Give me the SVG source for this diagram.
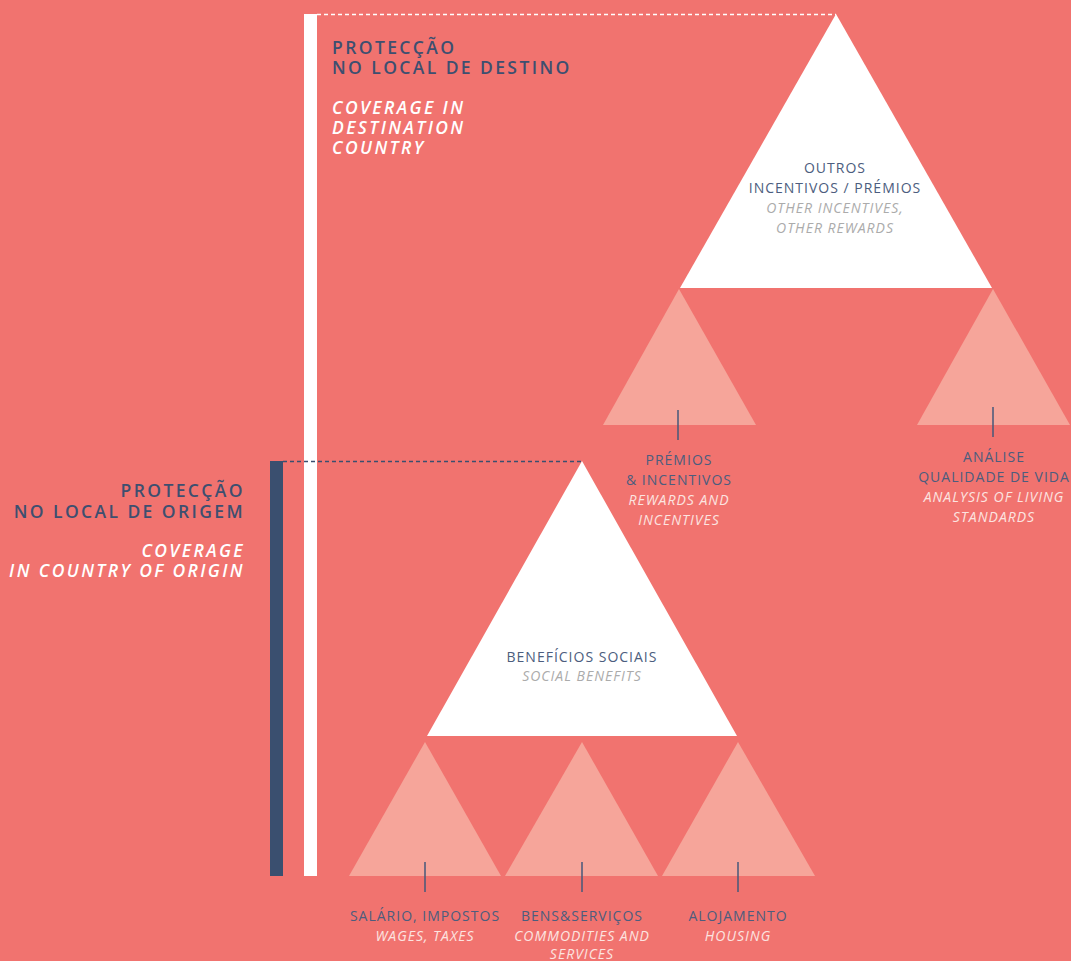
<svg xmlns="http://www.w3.org/2000/svg" width="1071" height="961" viewBox="0 0 1071 961">
  <style>
    .bg { fill: #F1736F; }
    .main { fill: #FFFFFF; }
    .sub { fill: #F6A59A; }
    .stem { stroke: #45587A; stroke-width: 1.5; }
    .lbl { font-family: "Open Sans", "Noto Sans", sans-serif; font-size: 14px; letter-spacing: 1px; text-anchor: middle; }
    .pt { fill: #4C5D7E; }
    .en { fill: #FCE4E0; font-style: italic; }
    .en-in { fill: #ABABAB; font-style: italic; }
    .ttl { font-family: "Open Sans", "Noto Sans", sans-serif; font-size: 17.5px; letter-spacing: 2.4px; }
    .ttl-pt { fill: #3D4F70; font-weight: 600; }
    .ttl-en { fill: #FFFFFF; font-weight: 600; font-style: italic; }
  </style>

  <rect class="bg" x="0" y="0" width="1071" height="961"/>

  <!-- scope bars and guide lines -->
  <g id="scope-bars">
    <rect x="304" y="14" width="13" height="862" fill="#FFFFFF"/>
    <rect x="270" y="461" width="13" height="415" fill="#3A4F6F"/>
    <line x1="317" y1="14.5" x2="836" y2="14.5" stroke="#FFFFFF" stroke-width="1.3" stroke-dasharray="4 3"/>
    <line x1="283" y1="461.5" x2="582" y2="461.5" stroke="#3A4F6F" stroke-width="1.5" stroke-dasharray="4 3"/>
  </g>

  <!-- destination coverage title -->
  <g id="title-destination">
    <text class="ttl ttl-pt" x="332" y="54">PROTECÇÃO</text>
    <text class="ttl ttl-pt" x="332" y="74">NO LOCAL DE DESTINO</text>
    <text class="ttl ttl-en" x="332" y="114">COVERAGE IN</text>
    <text class="ttl ttl-en" x="332" y="134">DESTINATION</text>
    <text class="ttl ttl-en" x="332" y="154">COUNTRY</text>
  </g>

  <!-- origin coverage title -->
  <g id="title-origin">
    <text class="ttl ttl-pt" x="245" y="497" text-anchor="end">PROTECÇÃO</text>
    <text class="ttl ttl-pt" x="245" y="518" text-anchor="end">NO LOCAL DE ORIGEM</text>
    <text class="ttl ttl-en" x="245" y="557" text-anchor="end">COVERAGE</text>
    <text class="ttl ttl-en" x="245" y="577" text-anchor="end">IN COUNTRY OF ORIGIN</text>
  </g>

  <!-- other incentives -->
  <g id="node-other-incentives">
    <polygon class="main" points="836,14 992,288 680,288"/>
    <text class="lbl pt" x="835" y="173">OUTROS</text>
    <text class="lbl pt" x="835" y="193">INCENTIVOS / PRÉMIOS</text>
    <text class="lbl en-in" x="835" y="213">OTHER INCENTIVES,</text>
    <text class="lbl en-in" x="835" y="233">OTHER REWARDS</text>
  </g>

  <g id="node-rewards">
    <polygon class="sub" points="679,289 756,425 603,425"/>
    <text class="lbl pt" x="679" y="465">PRÉMIOS</text>
    <text class="lbl pt" x="679" y="485">&amp; INCENTIVOS</text>
    <text class="lbl en" x="679" y="505">REWARDS AND</text>
    <text class="lbl en" x="679" y="525">INCENTIVES</text>
  </g>

  <g id="node-living-standards">
    <polygon class="sub" points="993,289 1070,425 917,425"/>
    <text class="lbl pt" x="994" y="462">ANÁLISE</text>
    <text class="lbl pt" x="994" y="482">QUALIDADE DE VIDA</text>
    <text class="lbl en" x="994" y="502">ANALYSIS OF LIVING</text>
    <text class="lbl en" x="994" y="522">STANDARDS</text>
  </g>

  <!-- social benefits -->
  <g id="node-social-benefits">
    <polygon class="main" points="582,461 737,736 427,736"/>
    <text class="lbl pt" x="582" y="662">BENEFÍCIOS SOCIAIS</text>
    <text class="lbl en-in" x="582" y="681">SOCIAL BENEFITS</text>
  </g>

  <g id="node-wages">
    <polygon class="sub" points="425,742 501,876 349,876"/>
    <text class="lbl pt" x="425" y="921">SALÁRIO, IMPOSTOS</text>
    <text class="lbl en" x="425" y="941">WAGES, TAXES</text>
  </g>

  <g id="node-commodities">
    <polygon class="sub" points="582,742 658,876 505,876"/>
    <text class="lbl pt" x="582" y="921">BENS&amp;SERVIÇOS</text>
    <text class="lbl en" x="582" y="941">COMMODITIES AND</text>
    <text class="lbl en" x="582" y="959">SERVICES</text>
  </g>

  <g id="node-housing">
    <polygon class="sub" points="738,742 815,876 662,876"/>
    <text class="lbl pt" x="738" y="921">ALOJAMENTO</text>
    <text class="lbl en" x="738" y="941">HOUSING</text>
  </g>

  <!-- stems from each sub-triangle down to its label -->
  <g id="connectors">
    <line class="stem" x1="678" y1="410" x2="678" y2="440"/>
    <line class="stem" x1="993" y1="407" x2="993" y2="437"/>
    <line class="stem" x1="425" y1="862" x2="425" y2="892"/>
    <line class="stem" x1="582" y1="862" x2="582" y2="892"/>
    <line class="stem" x1="738" y1="862" x2="738" y2="892"/>
  </g>
</svg>
